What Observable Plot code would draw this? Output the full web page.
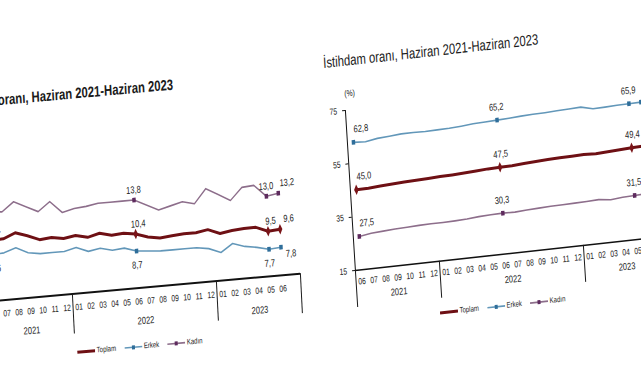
<!DOCTYPE html>
<html>
<head>
<meta charset="utf-8">
<script src="https://cdn.jsdelivr.net/npm/d3@7"></script>
<script src="https://cdn.jsdelivr.net/npm/@observablehq/plot@0.6"></script>
<style>
html, body { margin: 0; padding: 0; width: 641px; height: 380px; overflow: hidden; background: #fff; }
.chart { position: absolute; width: 466px; height: 320px; transform-origin: 40px 227px;
  font-family: "Liberation Sans", Arial, sans-serif; color: #1a1a1a; }
.title { position: absolute; font-size: 15px; line-height: 18px; white-space: nowrap; }
.svgwrap { position: absolute; left: 0; top: 32px; }
.legend { position: absolute; display: flex; align-items: center; font-size: 8px; white-space: nowrap; color: #222; }
.legend svg { margin-right: 2px; }
.legend span { margin-right: 11px; }
</style>
</head>
<body>
<div id="left" class="chart" style="left:-52.5px; top:74px; transform: matrix(0.75,-0.067,0.05,1,0,0);">
  <div class="title" style="left:13px; top:19px; font-weight:bold;">İşsizlik oranı, Haziran 2021-Haziran 2023</div>
  <div class="svgwrap" id="leftPlot"></div>
  <div class="legend" id="leftLegend" style="left:155px; top:281px;"></div>
</div>
<div id="right" class="chart" style="left:315px; top:43px; transform: matrix(0.75,-0.0825,0.0625,1,0,0);">
  <div class="title" style="left:15px; top:9px;">İstihdam oranı, Haziran 2021-Haziran 2023</div>
  <div class="svgwrap" id="rightPlot"></div>
  <div class="legend" id="rightLegend" style="left:149px; top:274px;"></div>
</div>
<script>
// ---- data ----
const months = ["06","07","08","09","10","11","12",
  "01","02","03","04","05","06","07","08","09","10","11","12",
  "01","02","03","04","05","06"];
const years = ["2021","2022","2023"];
const seriesNames = ["Toplam","Erkek","Kadın"];
const labelIdx = [0, 12, 23, 24];

// İşsizlik oranı (%)
const unempToplam = [11.1, 11.1, 11.6, 11.2, 10.7, 10.8, 10.6, 10.8, 10.5, 10.8, 10.5, 10.6, 10.4,
  10.0, 9.8, 9.9, 10.0, 10.0, 10.2, 9.7, 9.9, 10.0, 10.0, 9.5, 9.6];
const unempErkek = [9.6, 9.7, 10.1, 9.5, 9.3, 9.3, 9.3, 9.6, 9.1, 9.3, 9.0, 9.1, 8.7,
  8.6, 8.5, 8.5, 8.5, 8.5, 8.3, 7.8, 8.6, 8.2, 8.0, 7.7, 7.8];
const unempKadin = [13.9, 13.8, 14.7, 14.1, 13.5, 14.4, 13.2, 13.5, 13.6, 13.8, 13.8, 13.8, 13.8,
  13.2, 12.6, 12.9, 13.2, 12.9, 14.3, 13.6, 12.9, 14.1, 14.2, 13.0, 13.2];
const unempYDomain = [5, 21];
const unempYTicks = [5, 9, 13, 17, 21];

// İstihdam oranı (%)
const empToplam = [45.0, 45.1, 45.4, 45.7, 45.9, 46.1, 46.3, 46.5, 46.6, 46.8, 47.1, 47.4, 47.5,
  47.6, 47.9, 48.2, 48.4, 48.6, 48.7, 48.8, 48.6, 48.9, 49.1, 49.4, 49.5];
const empErkek = [62.8, 62.5, 63.3, 63.6, 64.0, 64.0, 63.9, 64.0, 64.1, 64.4, 64.8, 65.0, 65.2,
  65.4, 65.7, 65.9, 66.0, 66.2, 66.4, 66.6, 65.5, 65.6, 65.8, 65.9, 66.0];
const empKadin = [27.5, 28.2, 28.5, 28.8, 29.0, 29.2, 29.3, 29.3, 29.4, 29.6, 30.0, 30.2, 30.3,
  30.2, 30.5, 30.7, 30.9, 31.0, 31.1, 31.2, 31.4, 30.9, 31.3, 31.5, 31.7];
const empYDomain = [15, 75];
const empYTicks = [15, 35, 55, 75];

// ---- styles ----
const lineColor = { "Toplam": "#6e1014", "Erkek": "#6297b9", "Kadın": "#8d6e8b" };
const markColor = { "Toplam": "#7a1418", "Erkek": "#2f6e9a", "Kadın": "#5e2b5e" };
const lineWidth = { "Toplam": 3, "Erkek": 1.6, "Kadın": 1.6 };
const symbolOf = { "Toplam": "diamond", "Erkek": "square", "Kadın": "square" };

// ---- derived ----
const idx = months.map((_, i) => i);
const starts = idx.filter(i => i === 0 || months[i] === "01");
const bounds = [...starts.map(i => i - 0.5), months.length + 0.5];
const yearCenters = years.map((_, k) => (bounds[k] + bounds[k + 1]) / 2);
const fmt = v => d3.format(".1f")(v).replace(".", ",");

function makeChart(cfg) {
  const rows = [];
  for (const s of seriesNames) cfg.series[s].forEach((v, i) => rows.push({ s, i, v }));
  const marks = [
    Plot.ruleY([cfg.yDomain[0]], { stroke: "#111", strokeWidth: cfg.axisWidth }),
    Plot.ruleX([bounds[0]], { stroke: "#111", strokeWidth: 1.3 }),
    Plot.axisY({ ticks: cfg.yTicks, tickSize: 4, tickPadding: 7, fontSize: 9, label: null, tickFormat: d => d }),
    Plot.axisX({ ticks: idx, tickSize: 0, tickPadding: cfg.monthPad, fontSize: 9, label: null, tickFormat: i => months[i] }),
    Plot.axisX({ ticks: yearCenters, tickSize: 0, tickPadding: cfg.yearPad, fontSize: 10, label: null,
      tickFormat: d => years[yearCenters.indexOf(d)] }),
    Plot.axisX({ ticks: bounds, tickSize: cfg.sepLen, tickFormat: () => "", label: null, strokeWidth: 1.3 }),
    Plot.text(["(%)"], { frameAnchor: "top-left", dy: -20, fontSize: 9, fill: "#222" })
  ];
  for (const s of ["Kadın", "Erkek", "Toplam"]) {
    const d = rows.filter(r => r.s === s);
    marks.push(Plot.line(d, { x: "i", y: "v", stroke: lineColor[s], strokeWidth: lineWidth[s] }));
  }
  for (const s of ["Kadın", "Erkek", "Toplam"]) {
    const d = rows.filter(r => r.s === s && labelIdx.includes(r.i));
    marks.push(Plot.dot(d, { x: "i", y: "v", symbol: symbolOf[s], r: s === "Toplam" ? 3.2 : 2.6, fill: markColor[s] }));
    const L = cfg.labels[s];
    const groups = {
      start: d.filter(r => r.i === labelIdx[0]),
      mid: d.filter(r => r.i === labelIdx[1] || r.i === labelIdx[2]),
      end: d.filter(r => r.i === labelIdx[3])
    };
    for (const g of ["start", "mid", "end"]) {
      marks.push(Plot.text(groups[g], { x: "i", y: "v", text: r => fmt(r.v), dx: L[g][0], dy: L[g][1],
        fontSize: 10, fill: "#222" }));
    }
  }
  return Plot.plot({
    width: 466, height: 255,
    marginLeft: 40, marginRight: 10, marginTop: 35, marginBottom: 60,
    x: { domain: [bounds[0], bounds[bounds.length - 1]] },
    y: { domain: cfg.yDomain },
    style: { fontFamily: '"Liberation Sans", Arial, sans-serif', fontSize: "9px", color: "#1a1a1a",
      background: "transparent", overflow: "visible" },
    marks
  });
}

function legend(el) {
  for (const s of seriesNames) {
    const ns = "http://www.w3.org/2000/svg";
    const svg = document.createElementNS(ns, "svg");
    svg.setAttribute("width", 24); svg.setAttribute("height", 8);
    const ln = document.createElementNS(ns, "line");
    ln.setAttribute("x1", 0); ln.setAttribute("x2", 24); ln.setAttribute("y1", 4); ln.setAttribute("y2", 4);
    ln.setAttribute("stroke", lineColor[s]); ln.setAttribute("stroke-width", lineWidth[s]);
    svg.appendChild(ln);
    if (s !== "Toplam") {
      const m = document.createElementNS(ns, "rect");
      m.setAttribute("x", 10); m.setAttribute("y", 2); m.setAttribute("width", 4); m.setAttribute("height", 4);
      m.setAttribute("fill", markColor[s]);
      svg.appendChild(m);
    }
    el.appendChild(svg);
    const t = document.createElement("span"); t.textContent = s; el.appendChild(t);
  }
}

document.getElementById("leftPlot").appendChild(makeChart({
  series: { "Toplam": unempToplam, "Erkek": unempErkek, "Kadın": unempKadin },
  yDomain: unempYDomain, yTicks: unempYTicks, axisWidth: 2,
  monthPad: 10, yearPad: 29, sepLen: 40,
  labels: {
    "Kadın":  { start: [4, -10], mid: [0, -10], end: [12, -10] },
    "Toplam": { start: [4, -10], mid: [4, -10], end: [12, -10] },
    "Erkek":  { start: [4, 14],  mid: [0, 14],  end: [13, 7] }
  }
}));
document.getElementById("rightPlot").appendChild(makeChart({
  series: { "Toplam": empToplam, "Erkek": empErkek, "Kadın": empKadin },
  yDomain: empYDomain, yTicks: empYTicks, axisWidth: 1.5,
  monthPad: 8, yearPad: 22, sepLen: 37,
  labels: {
    "Kadın":  { start: [11, -13], mid: [0, -13], end: [12, -13] },
    "Toplam": { start: [11, -13], mid: [2, -13], end: [12, -13] },
    "Erkek":  { start: [11, -13], mid: [0, -13], end: [12, -13] }
  }
}));
legend(document.getElementById("leftLegend"));
legend(document.getElementById("rightLegend"));
</script>
</body>
</html>
